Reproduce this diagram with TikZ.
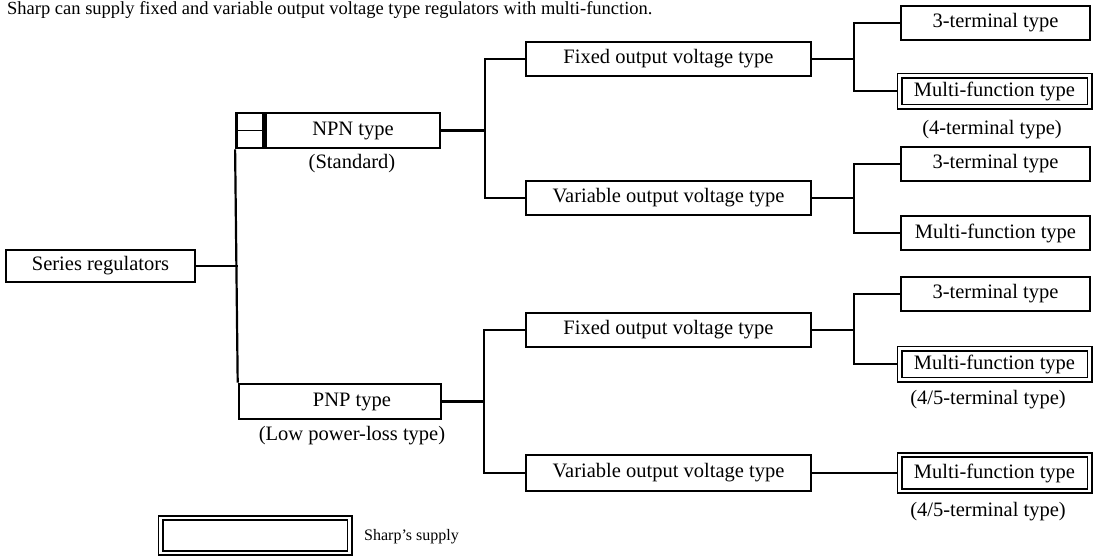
\documentclass[tikz,border=0pt]{standalone}
\usepackage{fontspec}
\setmainfont{Liberation Serif}
\begin{document}
\begin{tikzpicture}[x=1pt,y=-1pt,
  box/.style={draw, line width=2.6pt, minimum height=34pt, inner sep=0pt, font=\fontsize{20.5}{24}\selectfont},
  dbox/.style={draw, line width=1.8pt, double, double distance=2.4pt, outer sep=3pt, inner sep=0pt, font=\fontsize{20.5}{24}\selectfont},
  conn/.style={line width=2.2pt},
  lbl/.style={font=\fontsize{20.5}{24}\selectfont, inner sep=0pt}]
\useasboundingbox (0,0) rectangle (1097,557);

\node[anchor=base west, inner sep=0pt, font=\fontsize{18.5}{22}\selectfont] (title) at (7,14) {Sharp can supply fixed and variable output voltage type regulators with multi-function.};

% level 1
\node[box, minimum width=189pt, minimum height=32pt] (series) at (100.5,266) {Series regulators};

% level 2
\node[box, minimum width=174pt, minimum height=35pt] (npn) at (353,130.5) {NPN type};
\node[box, minimum width=27pt, minimum height=35pt, anchor=east] (npnl) at (npn.west) {};
\draw[line width=1.6pt] (npnl.west) -- (npnl.east);
\node[lbl] (std) at (352,164) {(Standard)};
\node[box, minimum width=202pt, minimum height=35pt] (pnp) at (340,401.5) {\hspace*{24pt}PNP type};
\node[lbl] (lpl) at (352,436) {(Low power-loss type)};
\draw[conn] (npnl.south west) -- (pnp.north west);
\draw[conn] (series.east) -- (series.east -| pnp.west);

% level 3
\node[box, minimum width=285pt] (fix1) at (668.5,59) {Fixed output voltage type};
\node[box, minimum width=285pt] (var1) at (668.5,198) {Variable output voltage type};
\node[box, minimum width=285pt] (fix2) at (668.5,330) {Fixed output voltage type};
\node[box, minimum width=285pt, minimum height=36pt] (var2) at (668.5,473) {Variable output voltage type};

\coordinate (j1) at ([xshift=44pt]npn.east);
\draw[conn] (npn.east) -- (j1);
\draw[conn] (fix1.west) -| (j1) |- (var1.west);
\coordinate (j2) at ([xshift=42pt]pnp.east);
\draw[conn] (pnp.east) -- (j2);
\draw[conn] (fix2.west) -| (j2) |- (var2.west);

% level 4
\node[box, minimum width=189pt] (t1) at (995.5,23) {3-terminal type};
\node[dbox, minimum width=190pt, minimum height=31pt] (m1) at (994.5,91) {Multi-function type};
\node[lbl] (l1) at (992,130) {(4-terminal type)};
\coordinate (k1) at ([xshift=42pt]fix1.east);
\draw[conn] (fix1.east) -- (k1);
\draw[conn] (t1.west) -| (k1) |- (m1.west);

\node[box, minimum width=189pt] (t3) at (995.5,164) {3-terminal type};
\node[box, minimum width=189pt] (m4) at (995.5,233) {Multi-function type};
\coordinate (k2) at ([xshift=42pt]var1.east);
\draw[conn] (var1.east) -- (k2);
\draw[conn] (t3.west) -| (k2) |- (m4.west);

\node[box, minimum width=189pt] (t5) at (995.5,294) {3-terminal type};
\node[dbox, minimum width=190pt, minimum height=31pt] (m6) at (994.5,364) {Multi-function type};
\node[lbl] (l6) at (988,400) {(4/5-terminal type)};
\coordinate (k3) at ([xshift=42pt]fix2.east);
\draw[conn] (fix2.east) -- (k3);
\draw[conn] (t5.west) -| (k3) |- (m6.west);

\node[dbox, minimum width=190pt, minimum height=36pt] (m7) at (994.5,473) {Multi-function type};
\node[lbl] (l7) at (988,512) {(4/5-terminal type)};
\draw[conn] (var2.east) -- (m7.west);

% legend
\node[dbox, minimum width=189pt, minimum height=35pt] (leg) at (255,535.5) {};
\node[anchor=west, inner sep=0pt, font=\fontsize{16}{19}\selectfont] (legt) at (364,537) {Sharp's supply};
\end{tikzpicture}
\end{document}
